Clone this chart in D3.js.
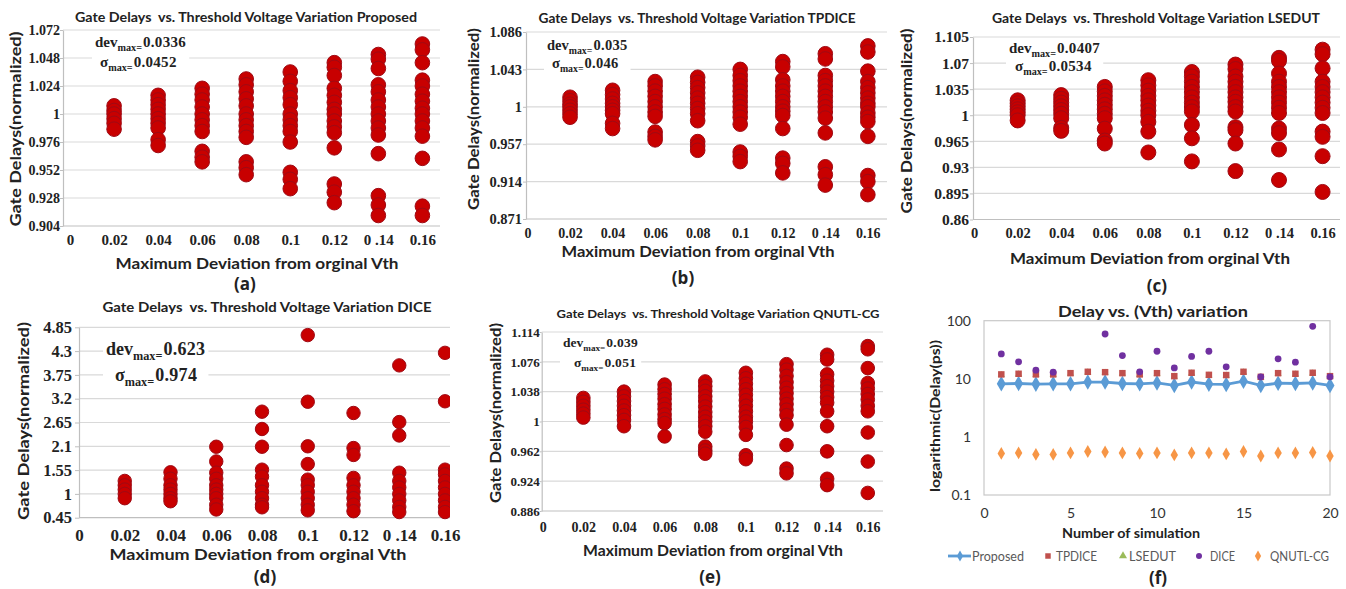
<!DOCTYPE html>
<html><head><meta charset="utf-8">
<script src="https://cdnjs.cloudflare.com/ajax/libs/d3/7.8.5/d3.min.js"></script>
<style>body{margin:0;background:#fff} text{white-space:pre}</style>
</head><body><svg id="c" width="1346" height="589"></svg>
<script>
// ---------------- DATA ----------------
const xValues = [0.02, 0.04, 0.06, 0.08, 0.1, 0.12, 0.14, 0.16];
const xTickValues = [0, 0.02, 0.04, 0.06, 0.08, 0.1, 0.12, 0.14, 0.16];
const xTickLabels = ["0", "0.02", "0.04", "0.06", "0.08", "0.1", "0.12", "0 .14", "0.16"];

const proposedYTicks = [0.904, 0.928, 0.952, 0.976, 1, 1.024, 1.048, 1.072];
const proposedYLabels = ["0.904", "0.928", "0.952", "0.976", "1", "1.024", "1.048", "1.072"];
const proposedDelays = [
  [1.007, 1.003, 1.0, 0.996, 0.992, 0.987],
  [1.016, 1.012, 1.008, 1.004, 1.0, 0.996, 0.992, 0.988, 0.978, 0.973],
  [1.022, 1.017, 1.012, 1.006, 1.0, 0.995, 0.990, 0.985, 0.968, 0.963, 0.959],
  [1.030, 1.025, 1.019, 1.013, 1.007, 1.0, 0.995, 0.990, 0.985, 0.980, 0.959, 0.954, 0.948],
  [1.036, 1.028, 1.020, 1.014, 1.008, 1.0, 0.995, 0.990, 0.985, 0.976, 0.950, 0.944, 0.936],
  [1.044, 1.040, 1.033, 1.022, 1.016, 1.010, 1.004, 1.0, 0.994, 0.989, 0.984, 0.971, 0.940, 0.933, 0.924],
  [1.051, 1.047, 1.039, 1.025, 1.019, 1.012, 1.006, 1.0, 0.994, 0.988, 0.982, 0.966, 0.930, 0.922, 0.913],
  [1.060, 1.055, 1.044, 1.029, 1.024, 1.017, 1.011, 1.005, 1.0, 0.994, 0.988, 0.981, 0.962, 0.921, 0.913]
];

const tpdiceYTicks = [0.871, 0.914, 0.957, 1, 1.043, 1.086];
const tpdiceYLabels = ["0.871", "0.914", "0.957", "1", "1.043", "1.086"];
const tpdiceDelays = [
  [1.011, 1.007, 1.003, 1.0, 0.996, 0.992, 0.988],
  [1.019, 1.014, 1.009, 1.004, 1.0, 0.996, 0.992, 0.981, 0.975],
  [1.029, 1.024, 1.018, 1.012, 1.006, 1.0, 0.994, 0.989, 0.971, 0.966, 0.962],
  [1.034, 1.028, 1.022, 1.016, 1.010, 1.004, 0.998, 0.992, 0.984, 0.960, 0.955, 0.950],
  [1.043, 1.036, 1.030, 1.024, 1.018, 1.012, 1.006, 1.0, 0.994, 0.988, 0.980, 0.948, 0.943, 0.937],
  [1.052, 1.046, 1.031, 1.024, 1.018, 1.012, 1.006, 1.0, 0.995, 0.990, 0.975, 0.941, 0.935, 0.924],
  [1.061, 1.055, 1.036, 1.030, 1.024, 1.018, 1.012, 1.006, 1.0, 0.994, 0.987, 0.970, 0.931, 0.922, 0.910],
  [1.070, 1.063, 1.041, 1.029, 1.022, 1.016, 1.010, 1.004, 1.0, 0.993, 0.988, 0.983, 0.966, 0.921, 0.914, 0.899]
];

const lsedutYTicks = [0.86, 0.895, 0.93, 0.965, 1, 1.035, 1.07, 1.105];
const lsedutYLabels = ["0.86", "0.895", "0.93", "0.965", "1", "1.035", "1.07", "1.105"];
const lsedutDelays = [
  [1.020, 1.016, 1.012, 1.008, 1.004, 1.0, 0.993],
  [1.027, 1.022, 1.017, 1.012, 1.007, 1.002, 0.996, 0.983, 0.979],
  [1.038, 1.032, 1.026, 1.020, 1.014, 1.008, 1.002, 0.996, 0.982, 0.966, 0.962],
  [1.047, 1.040, 1.033, 1.026, 1.020, 1.013, 1.006, 1.0, 0.991, 0.978, 0.950],
  [1.058, 1.052, 1.045, 1.038, 1.031, 1.024, 1.017, 1.011, 1.005, 0.987, 0.969, 0.938],
  [1.068, 1.062, 1.052, 1.045, 1.038, 1.031, 1.024, 1.018, 1.011, 1.005, 0.984, 0.980, 0.962, 0.925],
  [1.077, 1.073, 1.056, 1.045, 1.038, 1.031, 1.024, 1.017, 1.010, 1.003, 0.982, 0.976, 0.954, 0.913],
  [1.088, 1.082, 1.063, 1.045, 1.038, 1.031, 1.024, 1.017, 1.010, 1.003, 0.978, 0.971, 0.945, 0.897]
];

const diceYTicks = [0.45, 1, 1.55, 2.1, 2.65, 3.2, 3.75, 4.3, 4.85];
const diceYLabels = ["0.45", "1", "1.55", "2.1", "2.65", "3.2", "3.75", "4.3", "4.85"];
const diceDelays = [
  [1.30, 1.20, 1.10, 1.0, 0.90],
  [1.50, 1.35, 1.20, 1.10, 1.0, 0.90, 0.83],
  [2.09, 1.75, 1.49, 1.35, 1.20, 1.10, 1.0, 0.90, 0.75, 0.64],
  [2.90, 2.50, 2.09, 1.56, 1.40, 1.20, 1.05, 0.90, 0.75, 0.69],
  [4.67, 3.13, 2.10, 1.69, 1.33, 1.20, 1.05, 0.90, 0.75, 0.62],
  [2.87, 2.06, 1.90, 1.37, 1.20, 1.05, 0.90, 0.75, 0.60],
  [3.97, 2.66, 2.35, 1.49, 1.30, 1.15, 1.0, 0.85, 0.70, 0.58],
  [4.26, 3.14, 1.56, 1.45, 1.30, 1.15, 1.0, 0.85, 0.70, 0.58]
];

const qnutlYTicks = [0.886, 0.924, 0.962, 1, 1.038, 1.076, 1.114];
const qnutlYLabels = ["0.886", "0.924", "0.962", "1", "1.038", "1.076", "1.114"];
const qnutlDelays = [
  [1.030, 1.025, 1.020, 1.015, 1.010, 1.005],
  [1.038, 1.032, 1.026, 1.020, 1.014, 1.008, 1.002, 0.994],
  [1.047, 1.041, 1.035, 1.029, 1.022, 1.016, 1.009, 1.003, 0.998, 0.981],
  [1.051, 1.045, 1.039, 1.032, 1.026, 1.019, 1.012, 1.006, 1.0, 0.994, 0.987, 0.968, 0.963, 0.959],
  [1.062, 1.055, 1.048, 1.041, 1.034, 1.027, 1.020, 1.013, 1.006, 1.0, 0.993, 0.983, 0.957, 0.952],
  [1.073, 1.066, 1.058, 1.050, 1.043, 1.036, 1.029, 1.022, 1.015, 1.008, 0.996, 0.970, 0.940, 0.934],
  [1.085, 1.079, 1.060, 1.052, 1.045, 1.038, 1.031, 1.024, 1.013, 0.994, 0.962, 0.927, 0.919],
  [1.096, 1.092, 1.068, 1.049, 1.042, 1.035, 1.028, 1.020, 1.013, 0.986, 0.949, 0.909]
];

// panel (f)
const simRuns = [1, 2, 3, 4, 5, 6, 7, 8, 9, 10, 11, 12, 13, 14, 15, 16, 17, 18, 19, 20];
const simProposed = [8.2, 8.3, 8.1, 8.2, 8.2, 8.8, 8.8, 8.3, 8.2, 8.5, 7.7, 8.8, 8.1, 8.0, 9.1, 7.7, 8.4, 8.3, 8.5, 7.7];
const simTPDICE = [11.9, 12.2, 11.9, 11.9, 12.5, 13.2, 13.0, 12.5, 11.9, 12.5, 11.1, 12.7, 11.7, 11.6, 13.2, 10.8, 12.5, 12.2, 12.7, 11.1];
const simLSEDUT = [11.6, 11.9, 11.6, 11.6, 12.2, 12.9, 12.7, 12.2, 11.6, 12.2, 10.9, 12.4, 11.4, 11.3, 12.9, 10.6, 12.2, 11.9, 12.4, 10.9];
const simDICE = [26.8, 19.6, 14.1, 13.0, null, null, 59, 25.1, 13.2, 29.8, 15.4, 24.3, 29.8, 16.1, null, 10.8, 22.1, 19.3, 80, 10.8];
const simQNUTL = [0.52, 0.53, 0.50, 0.50, 0.53, 0.56, 0.55, 0.53, 0.52, 0.53, 0.49, 0.53, 0.53, 0.51, 0.56, 0.47, 0.53, 0.53, 0.54, 0.47];
const simXTicks = [0, 5, 10, 15, 20];
const simYTicks = [0.1, 1, 10, 100];
const simYLabels = ["0.1", "1", "10", "100"];
const legendNames = ["Proposed", "TPDICE", "LSEDUT", "DICE", "QNUTL-CG"];

// ---------------- DRAW ----------------
const svg = d3.select("#c");
const SANS = "Lato, 'Open Sans', sans-serif";
const SERIF = "'Liberation Serif', 'DejaVu Serif', serif";
const TXT = "#222";

svg.append("defs").append("clipPath").attr("id", "clipD")
  .append("rect").attr("x", 0).attr("y", 300).attr("width", 450).attr("height", 289);

function label(g, txt, x, y, fs, len, rotate, weight) {
  const t = g.append("text").text(txt)
    .attr("font-family", SANS).attr("font-weight", weight || 700).attr("font-size", fs)
    .attr("fill", TXT).attr("text-anchor", "middle").attr("dominant-baseline", "central");
  if (len) t.attr("textLength", len).attr("lengthAdjust", "spacingAndGlyphs");
  if (rotate) t.attr("transform", `translate(${x},${y}) rotate(-90)`);
  else t.attr("x", x).attr("y", y);
  return t;
}

function annot(g, x1, y1, x2, y2, fs, dev, sig) {
  const ag = g.append("g");
  const bg = ag.append("rect").attr("fill", "#fff");
  const mk = (x, y, sym, val) => {
    const t = ag.append("text").attr("x", x).attr("y", y)
      .attr("font-family", SERIF).attr("font-weight", 700).attr("font-size", fs).attr("fill", TXT);
    const sh = fs * 0.28;
    t.append("tspan").text(sym);
    t.append("tspan").text("max=").attr("font-size", fs * 0.68).attr("dy", sh);
    t.append("tspan").text(val).attr("dy", -sh).attr("dx", 1).attr("letter-spacing", 0.3);
    return t;
  };
  const a = mk(x1, y1, "dev", dev), b = mk(x2, y2, "\u03c3", sig);
  const ba = a.node().getBBox(), bb = b.node().getBBox();
  const x0 = Math.min(ba.x, bb.x) - 3, xe = Math.max(ba.x + ba.width, bb.x + bb.width) + 3;
  bg.attr("x", x0).attr("y", ba.y - 2).attr("width", xe - x0).attr("height", bb.y + bb.height - ba.y + 4);
}

function scatterPanel(p) {
  const g = svg.append("g");
  const x = d3.scaleLinear().domain(p.xDomain).range([p.left, p.right]);
  const y = d3.scaleLinear().domain([d3.min(p.yTicks), d3.max(p.yTicks)]).range([p.bottom, p.top]);
  const clip = p.clip ? `url(#${p.clip})` : null;
  const body = g.append("g").attr("clip-path", clip);
  body.append("g").selectAll("line").data(p.yTicks).join("line")
    .attr("x1", p.left).attr("x2", p.right).attr("y1", d => y(d)).attr("y2", d => y(d))
    .attr("stroke", (d, i) => i === 0 ? "#bfbfbf" : "#d9d9d9").attr("stroke-width", 1.2);

  const ya = g.append("g").attr("transform", `translate(${p.left},0)`)
    .call(d3.axisLeft(y).tickValues(p.yTicks).tickFormat((d, i) => p.yLabels[i])
      .tickSizeInner(p.tick).tickSizeOuter(0).tickPadding(p.yPad));
  ya.select(".domain").attr("stroke", "#bfbfbf").attr("stroke-width", 1.2);
  ya.selectAll(".tick line").attr("stroke", "#bfbfbf");
  ya.selectAll("text").attr("font-family", SERIF).attr("font-weight", 700)
    .attr("font-size", p.yFs).attr("fill", TXT);

  const xa = g.append("g").attr("transform", `translate(0,${p.bottom})`)
    .call(d3.axisBottom(x).tickValues(xTickValues).tickFormat((d, i) => xTickLabels[i]).tickSize(0));
  xa.select(".domain").remove();
  xa.selectAll("text").attr("y", p.xLabelY - p.bottom).attr("dy", "0.35em")
    .attr("font-family", SERIF).attr("font-weight", 700).attr("font-size", p.xFs).attr("fill", TXT);

  annot(g, ...p.annotPos, p.annotFs, p.dev, p.sig);

  const pts = p.data.flatMap((arr, i) => arr.map(v => ({ x: xValues[i], v })));
  body.append("g").selectAll("circle").data(pts).join("circle")
    .attr("cx", d => x(d.x)).attr("cy", d => y(d.v)).attr("r", p.r)
    .attr("fill", "#c80000").attr("stroke", "#9e0a14").attr("stroke-width", 1);

  label(g, p.title, p.titlePos[0], p.titlePos[1], p.titleFs, p.titleLen);
  label(g, "Gate Delays(normalized)", p.yLabPos[0], p.yLabPos[1], 16, p.yLabLen, true);
  label(g, "Maximum Deviation from orginal Vth", p.xLabPos[0], p.xLabPos[1], 16, p.xLabLen);
  label(g, p.tag, p.tagPos[0], p.tagPos[1], 17, null, false, 700).attr("font-family", "'Open Sans', sans-serif");
}

scatterPanel({
  left: 63, right: 440, top: 30, bottom: 226, xDomain: [-0.0032, 0.168],
  yTicks: proposedYTicks, yLabels: proposedYLabels, data: proposedDelays,
  tick: 3, yPad: 0, yFs: 14, xFs: 15, xLabelY: 240, r: 7.3,
  title: "Gate Delays  vs. Threshold Voltage Variation Proposed", titlePos: [246, 17], titleFs: 13, titleLen: 342,
  yLabPos: [14, 129], yLabLen: 195, xLabPos: [257, 262], xLabLen: 283, tag: "(a)", tagPos: [245, 283],
  annotPos: [95, 47, 100, 67], annotFs: 15, dev: "0.0336", sig: "0.0452"
});
scatterPanel({
  left: 526, right: 887, top: 32, bottom: 219, xDomain: [-0.0007, 0.169],
  yTicks: tpdiceYTicks, yLabels: tpdiceYLabels, data: tpdiceDelays,
  tick: 3, yPad: 1, yFs: 14.5, xFs: 14, xLabelY: 233, r: 7.3,
  title: "Gate Delays  vs. Threshold Voltage Variation TPDICE", titlePos: [697, 18], titleFs: 13, titleLen: 317,
  yLabPos: [472, 119], yLabLen: 182, xLabPos: [698, 250], xLabLen: 273, tag: "(b)", tagPos: [683, 277],
  annotPos: [547, 50, 552, 68], annotFs: 14.5, dev: "0.035", sig: "0.046"
});
scatterPanel({
  left: 973, right: 1340, top: 37, bottom: 219.5, xDomain: [-0.0005, 0.168],
  yTicks: lsedutYTicks, yLabels: lsedutYLabels, data: lsedutDelays,
  tick: 3, yPad: 1, yFs: 15.5, xFs: 14.5, xLabelY: 233, r: 7.5,
  title: "Gate Delays  vs. Threshold Voltage Variation LSEDUT", titlePos: [1156, 18], titleFs: 13, titleLen: 328,
  yLabPos: [905, 121], yLabLen: 185, xLabPos: [1150, 257], xLabLen: 280, tag: "(c)", tagPos: [1157, 285],
  annotPos: [1009, 53, 1015, 71], annotFs: 15, dev: "0.0407", sig: "0.0534"
});
scatterPanel({
  left: 79, right: 455, top: 327.3, bottom: 517.7, xDomain: [0, 0.16 * (455 - 78.5) / (445 - 78.5)],
  yTicks: diceYTicks, yLabels: diceYLabels, data: diceDelays, clip: "clipD",
  tick: 4, yPad: 3, yFs: 16.5, xFs: 17, xLabelY: 535, r: 6.7,
  title: "Gate Delays  vs. Threshold Voltage Variation DICE", titlePos: [267, 307], titleFs: 13, titleLen: 329,
  yLabPos: [22, 421], yLabLen: 198, xLabPos: [258, 553], xLabLen: 297, tag: "(d)", tagPos: [265, 576],
  annotPos: [106, 355, 115, 381], annotFs: 18, dev: "0.623", sig: "0.974"
});
scatterPanel({
  left: 541.7, right: 883, top: 332, bottom: 511, xDomain: [-0.0005, 0.1675],
  yTicks: qnutlYTicks, yLabels: qnutlYLabels, data: qnutlDelays,
  tick: 2, yPad: 0, yFs: 13, xFs: 14, xLabelY: 527, r: 6.8,
  title: "Gate Delays  vs. Threshold Voltage Variation QNUTL-CG", titlePos: [718, 313], titleFs: 12, titleLen: 323,
  yLabPos: [494, 413], yLabLen: 180, xLabPos: [713, 549], xLabLen: 260, tag: "(e)", tagPos: [710, 576],
  annotPos: [563, 347, 574, 367], annotFs: 13.5, dev: "0.039", sig: "0.051"
});

// ---------- panel (f) ----------
(function () {
  const L = 984, R = 1330, T = 320.7, B = 495;
  const g = svg.append("g");
  const x = d3.scaleLinear().domain([0, 20]).range([L, R]);
  const y = d3.scaleLog().domain([0.1, 100]).range([B, T]);
  g.append("rect").attr("x", L).attr("y", T).attr("width", R - L).attr("height", B - T)
    .attr("fill", "none").attr("stroke", "#c8c8c8").attr("stroke-width", 1.2);
  const ya = g.append("g").attr("transform", `translate(${L},0)`)
    .call(d3.axisLeft(y).tickValues(simYTicks).tickFormat((d, i) => simYLabels[i]).tickSize(0).tickPadding(13));
  ya.select(".domain").remove();
  ya.selectAll("text").attr("font-family", SANS).attr("font-size", 14).attr("fill", "#333");
  const xa = g.append("g").attr("transform", `translate(0,${B})`)
    .call(d3.axisBottom(x).tickValues(simXTicks).tickSize(0));
  xa.select(".domain").remove();
  xa.selectAll("text").attr("y", 18).attr("dy", "0.35em").attr("font-family", SANS).attr("font-size", 14).attr("fill", "#333");

  const cBlue = "#5b9bd5", cRed = "#c0504d", cGreen = "#9bbb59", cPurple = "#7030a0", cOrange = "#f79646";
  const diamond = d3.symbol().type(d3.symbolDiamond);
  const square = d3.symbol().type(d3.symbolSquare);
  const tri = d3.symbol().type(d3.symbolTriangle);

  g.append("path").datum(simProposed)
    .attr("d", d3.line().x((d, i) => x(simRuns[i])).y(d => y(d)))
    .attr("fill", "none").attr("stroke", cBlue).attr("stroke-width", 2.8);
  g.append("g").selectAll("path").data(simProposed).join("path")
    .attr("transform", (d, i) => `translate(${x(simRuns[i])},${y(d)})`).attr("d", diamond.size(70)()).attr("fill", cBlue);
  g.append("g").selectAll("path").data(simLSEDUT).join("path")
    .attr("transform", (d, i) => `translate(${x(simRuns[i])},${y(d)})`).attr("d", tri.size(22)()).attr("fill", cGreen);
  g.append("g").selectAll("path").data(simTPDICE).join("path")
    .attr("transform", (d, i) => `translate(${x(simRuns[i])},${y(d)})`).attr("d", square.size(42)()).attr("fill", cRed);
  g.append("g").selectAll("circle").data(simDICE.map((v, i) => ({ v, r: simRuns[i] })).filter(d => d.v != null)).join("circle")
    .attr("cx", d => x(d.r)).attr("cy", d => y(d.v)).attr("r", 3.4).attr("fill", cPurple);
  g.append("g").selectAll("path").data(simQNUTL).join("path")
    .attr("transform", (d, i) => `translate(${x(simRuns[i])},${y(d)})`).attr("d", diamond.size(48)()).attr("fill", cOrange);

  label(g, "Delay vs. (Vth) variation", 1153, 310, 16, 190);
  label(g, "logarithmic(Delay(ps))", 935, 416, 13.5, 152, true);
  label(g, "Number of simulation", 1131, 533, 13.5, 138);
  label(g, "(f)", 1158, 577, 17, null, false, 700).attr("font-family", "'Open Sans', sans-serif");

  // legend
  const ly = 556;
  const lg = g.append("g");
  lg.append("line").attr("x1", 948).attr("x2", 971).attr("y1", ly).attr("y2", ly).attr("stroke", cBlue).attr("stroke-width", 2.8);
  lg.append("path").attr("transform", `translate(960,${ly})`).attr("d", diamond.size(34)()).attr("fill", cBlue);
  lg.append("path").attr("transform", `translate(1048,${ly})`).attr("d", square.size(30)()).attr("fill", cRed);
  lg.append("path").attr("transform", `translate(1123,${ly})`).attr("d", tri.size(28)()).attr("fill", cGreen);
  lg.append("circle").attr("cx", 1199).attr("cy", ly).attr("r", 3).attr("fill", cPurple);
  lg.append("path").attr("transform", `translate(1258,${ly})`).attr("d", diamond.size(34)()).attr("fill", cOrange);
  const lx = [972, 1056, 1129, 1210, 1270];
  const lw = [52, 41, 47, 25, 59];
  legendNames.forEach((n, i) => {
    lg.append("text").attr("x", lx[i]).attr("y", ly).attr("dominant-baseline", "central")
      .attr("font-family", SANS).attr("font-size", 13).attr("fill", "#595959")
      .attr("textLength", lw[i]).attr("lengthAdjust", "spacingAndGlyphs").text(n);
  });
})();
</script></body></html>
